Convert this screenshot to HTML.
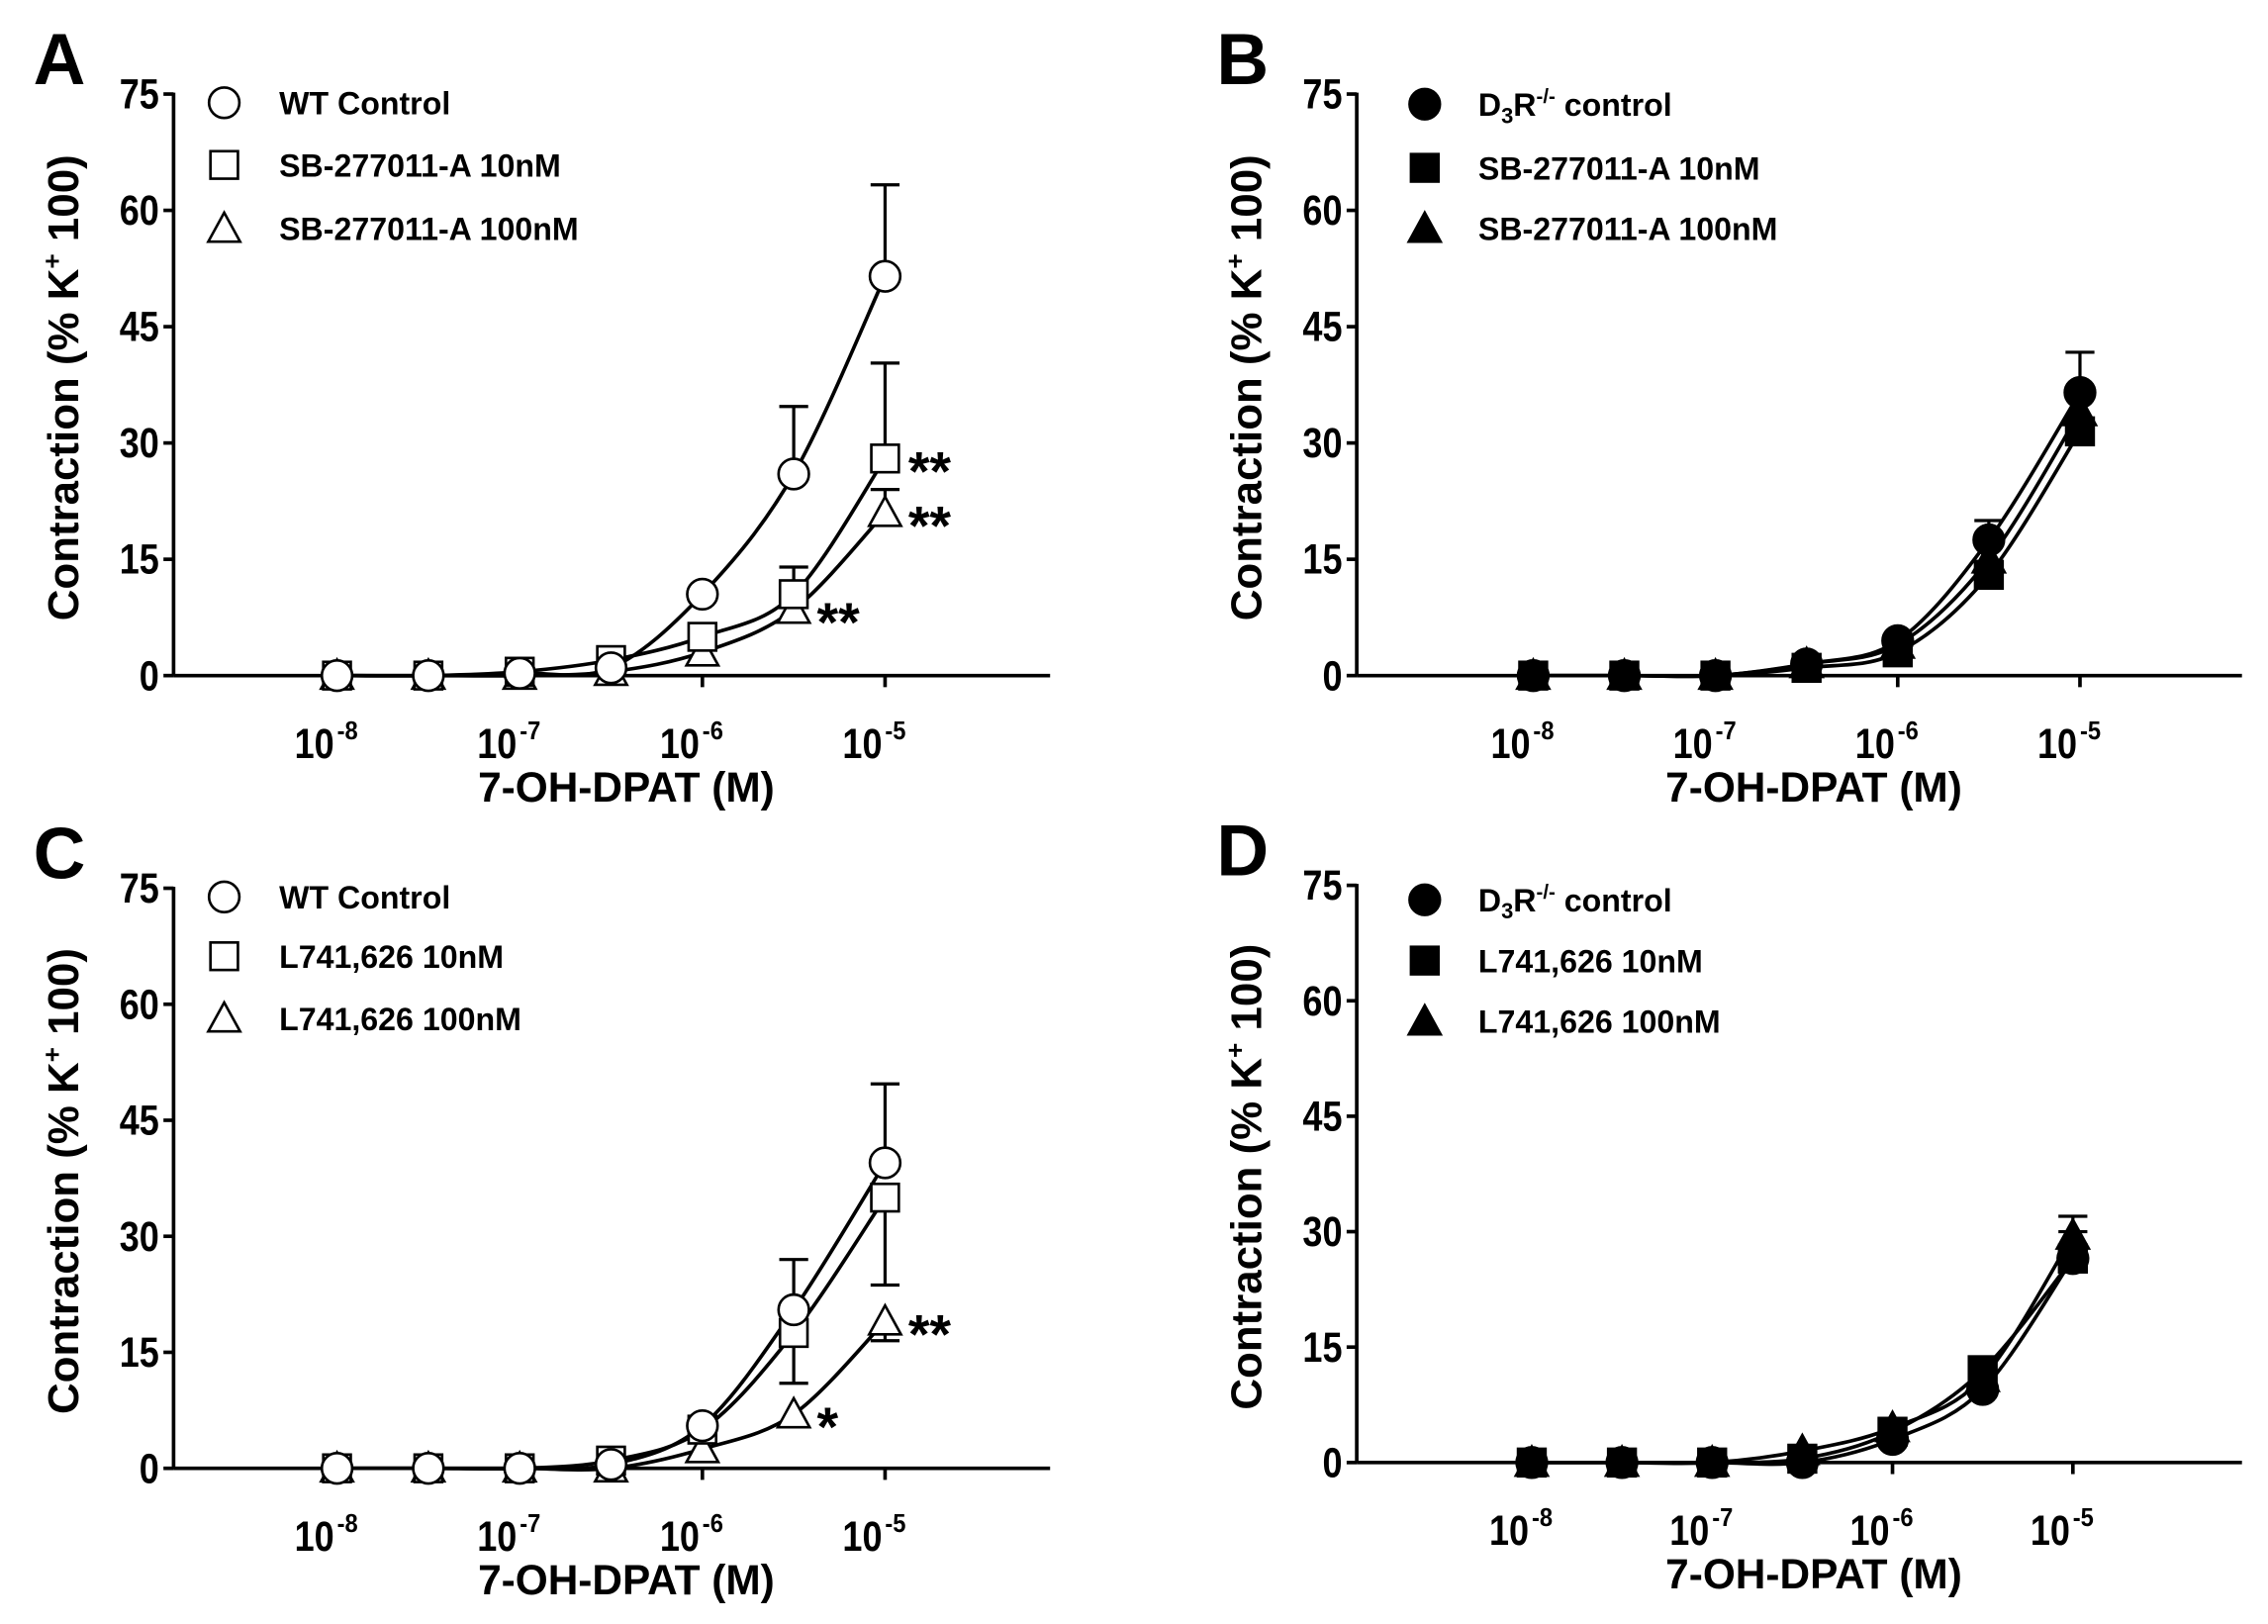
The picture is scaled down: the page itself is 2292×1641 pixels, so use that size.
<!DOCTYPE html>
<html><head><meta charset="utf-8"><style>
html,body{margin:0;padding:0;background:#fff}
svg{display:block}
text{font-family:"Liberation Sans",Arial,sans-serif;font-weight:bold;fill:#000}
</style></head><body>
<svg id="s" width="2292" height="1641" viewBox="0 0 1568 1122.6" xmlns="http://www.w3.org/2000/svg"></svg>
<script>
const S=document.getElementById('s');let h='';
const P=[
 {L:'A',ax:120,y0:467,y75:65,t8:233,dec:126.3,xe:726,open:true,
  leg:[['c','WT Control'],['s','SB-277011-A 10nM'],['t','SB-277011-A 100nM']],ly:[71,114,158],
  ser:[['c',[0,0,0.3,1,10.5,26,51.5],{5:34.7,6:63.3}],['s',[0,0,0.5,2,5,10.5,28],{5:14,6:40.3}],['t',[0,0,0,0.5,3,8.5,21],{6:24}]],
  stars:[[6,28,'**'],[6,21,'**'],[5,8.5,'**']]},
 {L:'B',ax:938,y0:467,y75:65,t8:1060,dec:126,xe:1550,open:false,
  leg:[['c','D3'],['s','SB-277011-A 10nM'],['t','SB-277011-A 100nM']],ly:[72,116,158],
  ser:[['c',[0,0,0,1.5,4.5,17.5,36.5],{5:20,6:41.7}],['s',[0,0,0,1,3,13,31.5],{}],['t',[0,0,0,1.5,4,15,34],{}]],stars:[]},
 {L:'C',ax:120,y0:1015,y75:614,t8:233,dec:126.3,xe:726,open:true,
  leg:[['c','WT Control'],['s','L741,626 10nM'],['t','L741,626 100nM']],ly:[620,661,704],
  ser:[['c',[0,0,0,0.5,5.5,20.5,39.5],{5:27,6:49.7}],['s',[0,0,0,1,5,17.5,35],{5:11,6:23.7}],['t',[0,0,0,0,2.5,7,19],{6:16.5}]],
  stars:[[6,19,'**'],[5,7,'*']]},
 {L:'D',ax:938,y0:1011,y75:612,t8:1059,dec:124.7,xe:1550,open:false,
  leg:[['c','D3'],['s','L741,626 10nM'],['t','L741,626 100nM']],ly:[622,664,706],
  ser:[['c',[0,0,0,0,3,9.5,26.5],{6:32}],['s',[0,0,0,0.5,4,12,26.5],{}],['t',[0,0,0,1.5,4.5,11,29.5],{6:30}]],stars:[]}
];
function mk(t,x,y,open){const f=open?'#fff':'#000';
 if(t=='c')return `<circle cx="${x}" cy="${y}" r="10.5" fill="${f}" stroke="#000" stroke-width="1.8"/>`;
 if(t=='s')return `<rect x="${x-9.5}" y="${y-9.5}" width="19" height="19" fill="${f}" stroke="#000" stroke-width="1.8"/>`;
 return `<polygon points="${x},${y-11} ${x+11},${y+9} ${x-11},${y+9}" fill="${f}" stroke="#000" stroke-width="1.8"/>`;}
function sx(x,s){return `transform="translate(${x} 0) scale(${s} 1) translate(${-x} 0)"`;}
for(const p of P){
 const ys=(p.y0-p.y75)/75, Y=v=>p.y0-v*ys, X=i=>p.t8+i*p.dec/2;
 h+=`<text x="${p.ax-97}" y="${p.y75-7}" font-size="50">${p.L}</text>`;
 h+=`<line x1="${p.ax}" y1="${p.y75-1}" x2="${p.ax}" y2="${p.y0}" stroke="#000" stroke-width="2.5"/>`;
 h+=`<line x1="${p.ax}" y1="${p.y0}" x2="${p.xe}" y2="${p.y0}" stroke="#000" stroke-width="2.5"/>`;
 for(let k=0;k<=5;k++){const y=Y(k*15);
  h+=`<line x1="${p.ax-7}" y1="${y}" x2="${p.ax}" y2="${y}" stroke="#000" stroke-width="2.5"/>`;
  h+=`<text x="${p.ax-10}" y="${y+10}" font-size="29" text-anchor="end" ${sx(p.ax-10,0.85)}>${k*15}</text>`;}
 for(let k=0;k<4;k++){const x=X(2*k);
  h+=`<line x1="${x}" y1="${p.y0}" x2="${x}" y2="${p.y0+8}" stroke="#000" stroke-width="2.5"/>`;
  h+=`<text x="${x-2}" y="${p.y0+57}" font-size="29" text-anchor="end" ${sx(x-2,0.85)}>10</text><text x="${x}" y="${p.y0+44}" font-size="18" ${sx(x,0.9)}>-${8-k}</text>`;}
 h+=`<text x="${(p.ax+p.xe)/2+10}" y="${p.y0+87}" font-size="29" text-anchor="middle">7-OH-DPAT (M)</text>`;
 const cy=(p.y0+p.y75)/2;
 h+=`<text transform="translate(${p.ax-66} ${cy+2}) rotate(-90)" font-size="30" text-anchor="middle">Contraction (% K<tspan dy="-12" font-size="18">+</tspan><tspan dy="12"> 100)</tspan></text>`;
 p.leg.forEach((l,i)=>{const mx=p.open?155:985, tx=p.open?193:1022;
  h+=mk(l[0],mx,p.ly[i],p.open);
  if(l[1]=='D3')h+=`<text x="${tx}" y="${p.ly[i]+8}" font-size="22">D<tspan font-size="15" dy="5">3</tspan><tspan dy="-5">R</tspan><tspan font-size="14" dy="-9">-/-</tspan><tspan dy="9"> control</tspan></text>`;
  else h+=`<text x="${tx}" y="${p.ly[i]+8}" font-size="22">${l[1]}</text>`;});
 for(const s of p.ser){const v=s[1];const pts=v.map((d,i)=>[X(i),Y(d)]);
  let d=`M${pts[0][0]},${pts[0][1]}`;
  for(let i=0;i<pts.length-1;i++){const p0=pts[Math.max(0,i-1)],p1=pts[i],p2=pts[i+1],p3=pts[Math.min(pts.length-1,i+2)];
   d+=` C${p1[0]+(p2[0]-p0[0])/6},${p1[1]+(p2[1]-p0[1])/6} ${p2[0]-(p3[0]-p1[0])/6},${p2[1]-(p3[1]-p1[1])/6} ${p2[0]},${p2[1]}`;}
  h+=`<path d="${d}" fill="none" stroke="#000" stroke-width="2.5"/>`;
  for(const k in s[2]){const x=X(+k),e=Y(s[2][k]);
   h+=`<line x1="${x}" y1="${Y(v[k])}" x2="${x}" y2="${e}" stroke="#000" stroke-width="2.2"/><line x1="${x-10}" y1="${e}" x2="${x+10}" y2="${e}" stroke="#000" stroke-width="2.2"/>`;}
 }
 for(const s of p.ser.slice().reverse())s[1].forEach((d,i)=>{h+=mk(s[0],X(i),Y(d),p.open);});
 for(const st of p.stars)h+=`<text x="${X(st[0])+16}" y="${Y(st[1])+22}" font-size="38">${st[2]}</text>`;
}
S.innerHTML=h;
</script>
</body></html>
